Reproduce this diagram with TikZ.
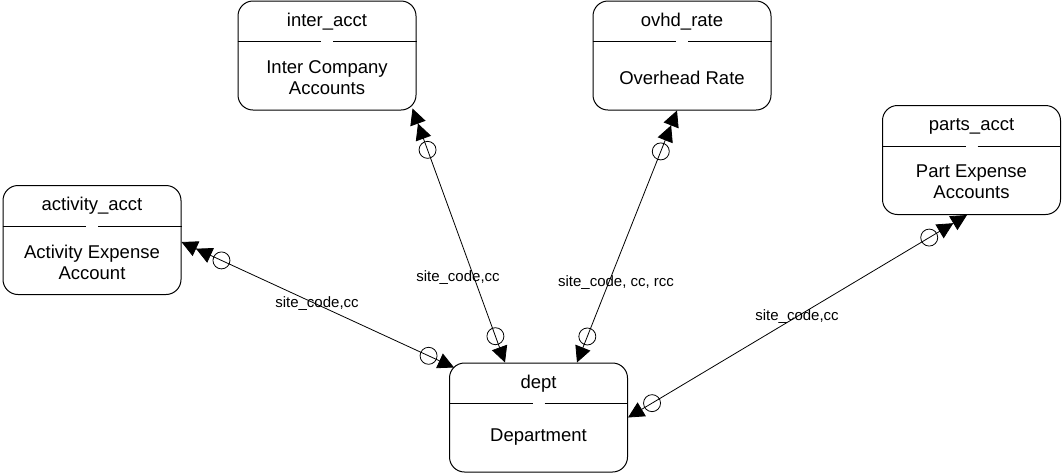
\documentclass[tikz,border=0pt]{standalone}
\usepackage{fontspec}
\setmainfont{Liberation Sans}
\usetikzlibrary{arrows.meta,calc,positioning}
\begin{document}
\begin{tikzpicture}[x=1pt,y=-1pt,
  ent/.style={draw,line width=1pt,rounded corners=15pt,minimum width=178pt,minimum height=109pt,inner sep=0pt},
  hd/.style={font=\fontsize{18.5}{21}\selectfont,inner sep=0pt},
  bd/.style={font=\fontsize{18.5}{21}\selectfont,align=center,inner sep=0pt},
  lbl/.style={font=\fontsize{15}{17}\selectfont,inner sep=0pt},
  sep/.style={line width=0.8pt},
  link/.style={line width=0.8pt,{Triangle[length=16pt,width=16pt]}-{Triangle[length=16pt,width=16pt]Triangle[length=16pt,width=16pt]}},
  ring/.style={draw,circle,line width=0.8pt,minimum size=17pt,inner sep=0pt}]
\useasboundingbox (0,0) rectangle (1062,475);
\node[ent] (act) at (92,240) {};
\node[ent] (inter) at (327,55.5) {};
\node[ent] (ovhd) at (682,55.5) {};
\node[ent] (parts) at (971.5,160) {};
\node[ent] (dept) at (538.5,417.5) {};
\foreach \b in {act,inter,ovhd,parts,dept}{
  \draw[sep] ($(\b.north west)+(0,41)$) -- ($(\b.north)+(-6,41)$);
  \draw[sep] ($(\b.north)+(6,41)$) -- ($(\b.north east)+(0,41)$);
}
\node[hd] (act-t) at ($(act.north)+(0,21)$) {activity\_acct};
\node[bd] (act-b) at ($(act.north)+(0,77)$) {Activity Expense\\Account};
\node[hd] (inter-t) at ($(inter.north)+(0,21)$) {inter\_acct};
\node[bd] (inter-b) at ($(inter.north)+(0,77)$) {Inter Company\\Accounts};
\node[hd] (ovhd-t) at ($(ovhd.north)+(0,21)$) {ovhd\_rate};
\node[bd] (ovhd-b) at ($(ovhd.north)+(0,77)$) {Overhead Rate};
\node[hd] (parts-t) at ($(parts.north)+(0,21)$) {parts\_acct};
\node[bd] (parts-b) at ($(parts.north)+(0,77)$) {Part Expense\\Accounts};
\node[hd] (dept-t) at ($(dept.north)+(0,21)$) {dept};
\node[bd] (dept-b) at ($(dept.north)+(0,75)$) {Department};
\coordinate (act-e) at ([yshift=-2pt]act.east);
\coordinate (inter-e) at ([xshift=-4pt,yshift=2pt]inter.south east);
\coordinate (ovhd-e) at ([xshift=-5pt]ovhd.south);
\coordinate (parts-e) at ([xshift=-4.5pt]parts.south);
\coordinate (dept-a) at ([shift={(5pt,-5pt)}]dept.north west);
\coordinate (dept-i) at ([xshift=-33.5pt]dept.north);
\coordinate (dept-o) at ([xshift=38.5pt]dept.north);
\coordinate (dept-p) at (dept.east);
\draw[link] (dept-a) -- (act-e);
\draw[link] (dept-i) -- (inter-e);
\draw[link] (dept-o) -- (ovhd-e);
\draw[link] (dept-p) -- (parts-e);
\foreach \d/\e in {dept-a/act-e,dept-i/inter-e,dept-o/ovhd-e,dept-p/parts-e}{
  \node[ring] at ($(\d)!28pt!(\e)$) {};
  \node[ring] at ($(\e)!44pt!(\d)$) {};
}
\node[lbl] (l-act) at (317,304) {site\_code,cc};
\node[lbl] (l-inter) at (458,278) {site\_code,cc};
\node[lbl] (l-ovhd) at (616,283) {site\_code, cc, rcc};
\node[lbl] (l-parts) at (797,317) {site\_code,cc};
\end{tikzpicture}
\end{document}
